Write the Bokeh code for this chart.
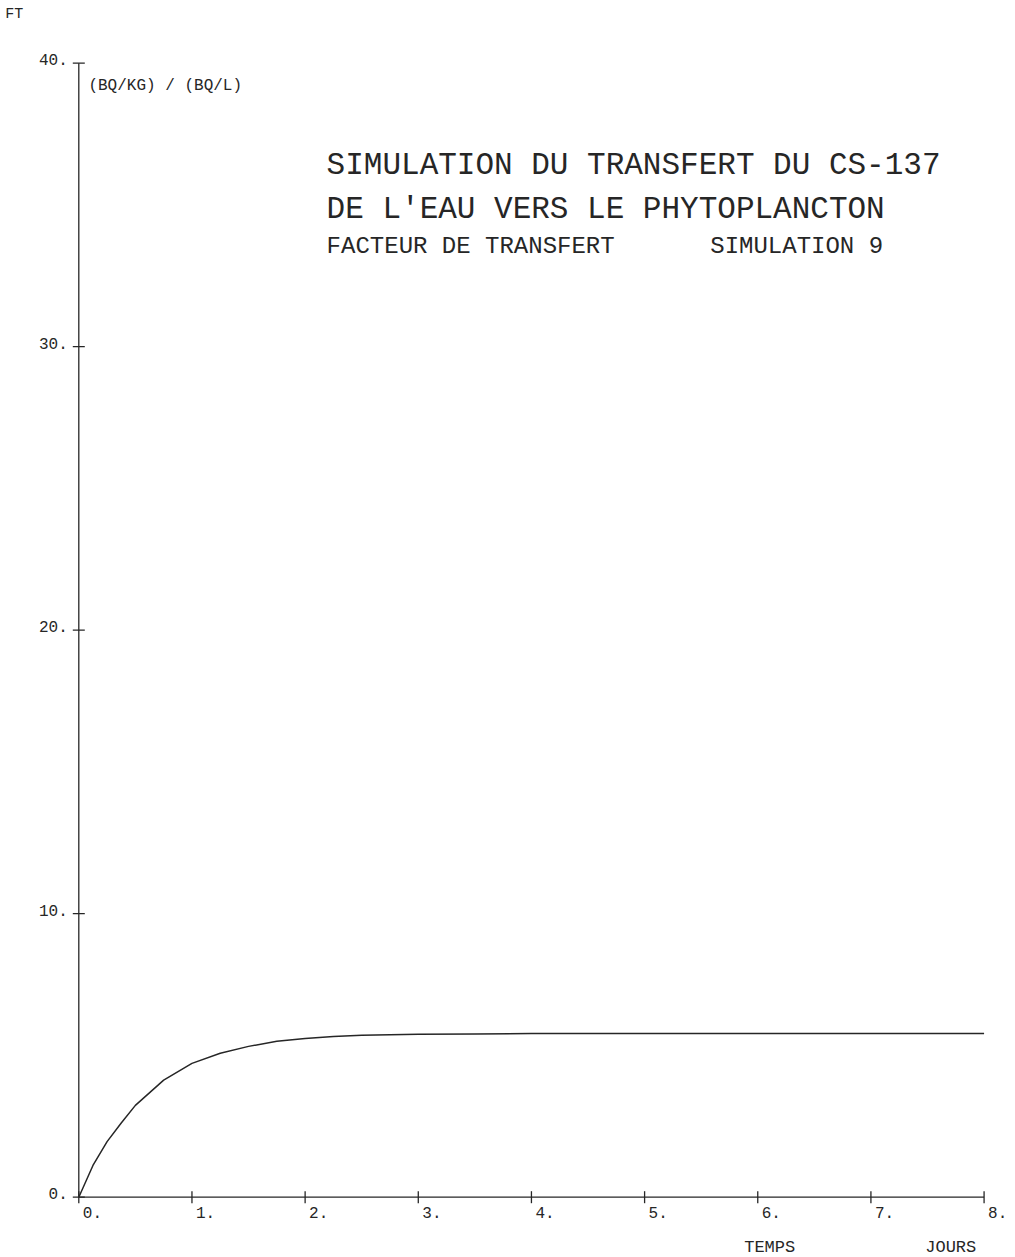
import math
from bokeh.plotting import figure
from bokeh.models import Range1d, ColumnDataSource
from bokeh.core.properties import value
from bokeh.embed import file_html
from bokeh.resources import INLINE

# Transfer factor FT (Bq/kg)/(Bq/L) versus time in days
temps_jours = [0, 0.125, 0.25, 0.375, 0.5, 0.75, 1.0, 1.25, 1.5, 1.75, 2.0,
               2.25, 2.5, 3.0, 3.5, 4.0, 5.0, 6.0, 7.0, 8.0]
facteur_transfert = [0, 1.12, 1.96, 2.62, 3.24, 4.13, 4.72, 5.08, 5.32, 5.50,
                     5.60, 5.67, 5.71, 5.75, 5.76, 5.77, 5.77, 5.77, 5.77, 5.77]

x_ticks = [0, 1, 2, 3, 4, 5, 6, 7, 8]
x_tick_labels = ["0.", "1.", "2.", "3.", "4.", "5.", "6.", "7.", "8."]
y_ticks = [0, 10, 20, 30, 40]
y_tick_labels = ["0.", "10.", "20.", "30.", "40."]

titre_1 = "SIMULATION DU TRANSFERT DU CS-137"
titre_2 = "DE L'EAU VERS LE PHYTOPLANCTON"
titre_3a = "FACTEUR DE TRANSFERT"
titre_3b = "SIMULATION 9"
unite_y = "(BQ/KG) / (BQ/L)"
nom_y = "FT"
nom_x = "TEMPS"
unite_x = "JOURS"

FONT = "Liberation Mono"
INK = "#262626"
# the svg text baseline lands about 0.29 em below the requested line
BASELINE_SHIFT = 0.29

W, H = 1015, 1257
# pixel placement of the plotting area inside the sheet
ORIG_X, ORIG_Y = 78.3, 1196.7      # origin, pixels from top-left
PX_PER_DAY = 113.16
PX_PER_FT = 28.35

x_lo = -ORIG_X / PX_PER_DAY
x_hi = (W - ORIG_X) / PX_PER_DAY
y_lo = (ORIG_Y - H) / PX_PER_FT
y_hi = ORIG_Y / PX_PER_FT

p = figure(width=W, height=H, output_backend="svg", toolbar_location=None,
           x_range=Range1d(x_lo, x_hi), y_range=Range1d(y_lo, y_hi),
           x_axis_location=None, y_axis_location=None, min_border=0)
p.outline_line_color = None
p.grid.visible = False
p.background_fill_color = "white"
p.border_fill_color = "white"

# axis lines spanning the tick ranges
p.segment(x0=[x_ticks[0], 0], y0=[0, y_ticks[0]],
          x1=[x_ticks[-1], 0], y1=[0, y_ticks[-1]],
          line_color=INK, line_width=1.3)
# ticks crossing the axis lines
p.scatter(x_ticks, [0] * len(x_ticks), marker="dash", size=12, angle=math.pi / 2,
          line_color=INK, line_width=1.3)
p.scatter([0] * len(y_ticks), y_ticks, marker="dash", size=12,
          line_color=INK, line_width=1.3)

# transfer factor curve
p.line(temps_jours, facteur_transfert, line_color=INK, line_width=1.5)

# tick labels
xs = ColumnDataSource(dict(x=x_ticks, y=[0] * len(x_ticks), t=x_tick_labels))
p.text(x="x", y="y", text="t", source=xs, x_offset=4, y_offset=10,
       text_align="left", text_baseline="top",
       text_font=value(FONT), text_font_size="16px", text_color=INK)
ys = ColumnDataSource(dict(x=[0] * len(y_ticks), y=y_ticks, t=y_tick_labels))
p.text(x="x", y="y", text="t", source=ys, x_offset=-11,
       y_offset=1 - BASELINE_SHIFT * 16,
       text_align="right", text_baseline="alphabetic",
       text_font=value(FONT), text_font_size="16px", text_color=INK)


def texte(s, x, y, size):
    p.text(x=[x], y=[y], text=[s], y_offset=-BASELINE_SHIFT * size,
           text_font=value(FONT), text_font_size=f"{size}px",
           text_color=INK, text_align="left", text_baseline="alphabetic")


texte(titre_1, 2.19, 36.07, 31)
texte(titre_2, 2.19, 34.52, 31)
texte(titre_3a, 2.19, 33.29, 24)
texte(titre_3b, 5.58, 33.29, 24)
texte(unite_y, 0.085, 39.04, 16)
texte(nom_y, -0.65, 41.58, 15)
texte(nom_x, 5.88, -1.94, 17)
texte(unite_x, 7.48, -1.94, 17)

open("out.html", "w").write(file_html(p, INLINE))
